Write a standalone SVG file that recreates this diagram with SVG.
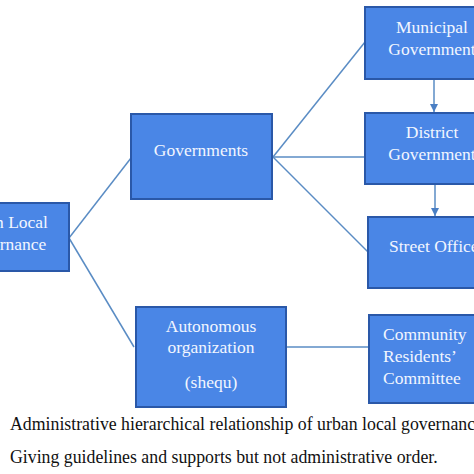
<svg xmlns="http://www.w3.org/2000/svg" width="474" height="474" viewBox="0 0 474 474">
<defs>
<style>
.box{fill:#4a86e6;stroke:#2a58a8;stroke-width:2}
.t{font-family:"Liberation Serif","Times New Roman",serif;font-size:17.5px;fill:#f2f6ff;text-anchor:middle}
.tl{font-family:"Liberation Serif","Times New Roman",serif;font-size:17.5px;fill:#f2f6ff}
.c{stroke:#5a8cc4;stroke-width:1.5;fill:none}
.cap{font-family:"Liberation Serif","Times New Roman",serif;font-size:17.8px;fill:#111}
</style>
<marker id="ah" viewBox="0 0 10 10" refX="10" refY="5" markerWidth="8" markerHeight="8" orient="auto" markerUnits="userSpaceOnUse">
<path d="M0,0 L10,5 L0,10 z" fill="#4a7fc4"/>
</marker>
</defs>
<rect width="474" height="474" fill="#fff"/>
<g id="connectors">
<line class="c" x1="69" y1="238" x2="131" y2="158"/>
<line class="c" x1="69" y1="238" x2="134" y2="347"/>
<line class="c" x1="273" y1="157" x2="365" y2="42"/>
<line class="c" x1="273" y1="157" x2="365" y2="157"/>
<line class="c" x1="273" y1="157" x2="368" y2="252"/>
<line class="c" x1="286" y1="347" x2="369" y2="347"/>
<line class="c" x1="434" y1="79" x2="434" y2="112" stroke="#4a7fc4" marker-end="url(#ah)"/>
<line class="c" x1="435" y1="184" x2="435" y2="216" stroke="#4a7fc4" marker-end="url(#ah)"/>
</g>
<g id="urban">
<rect class="box" x="-61" y="203" width="130" height="68"/>
<text class="t" x="4" y="228">Urban Local</text>
<text class="t" x="4" y="250">Governance</text>
</g>
<g id="governments">
<rect class="box" x="131" y="114" width="141" height="85"/>
<text class="t" x="201" y="156">Governments</text>
</g>
<g id="municipal">
<rect class="box" x="365" y="7" width="134" height="72"/>
<text class="t" x="432" y="33">Municipal</text>
<text class="t" x="432" y="55">Government</text>
</g>
<g id="district">
<rect class="box" x="365" y="113" width="134" height="71"/>
<text class="t" x="432" y="138">District</text>
<text class="t" x="432" y="160">Government</text>
</g>
<g id="street">
<rect class="box" x="368" y="217" width="134" height="71"/>
<text class="tl" x="389" y="252">Street Office</text>
</g>
<g id="autonomous">
<rect class="box" x="136" y="307" width="150" height="100"/>
<text class="t" x="211" y="332">Autonomous</text>
<text class="t" x="211" y="353">organization</text>
<text class="t" x="211" y="388">(shequ)</text>
</g>
<g id="community">
<rect class="box" x="369" y="315" width="134" height="88"/>
<text class="tl" x="383" y="340">Community</text>
<text class="tl" x="383" y="362">Residents’</text>
<text class="tl" x="383" y="384">Committee</text>
</g>
<g id="caption">
<text class="cap" x="10" y="430">Administrative hierarchical relationship of urban local governance</text>
<text class="cap" x="10" y="463">Giving guidelines and supports but not administrative order.</text>
</g>
</svg>
